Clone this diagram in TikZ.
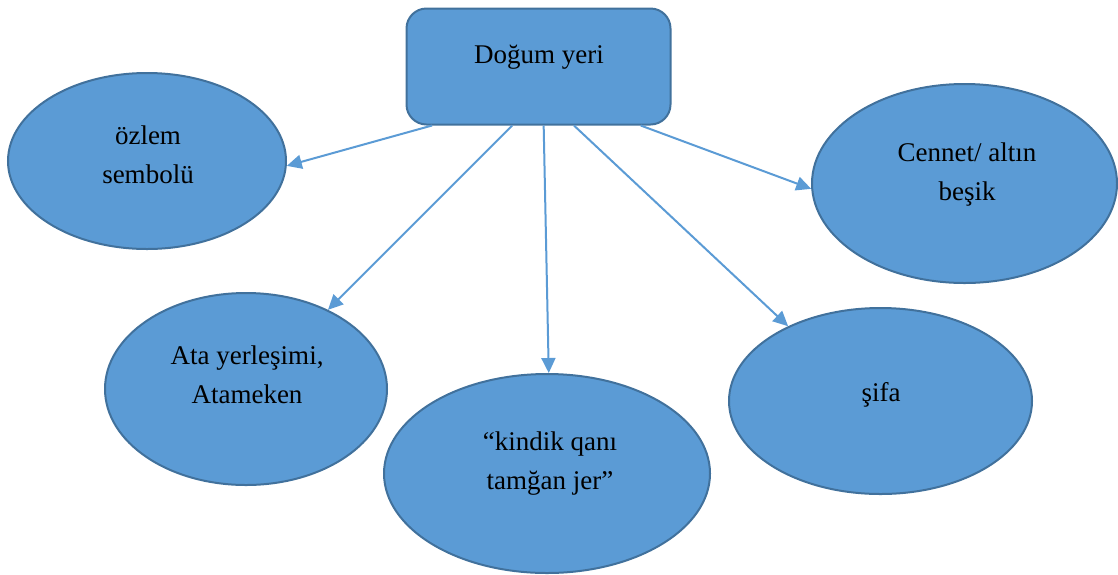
\documentclass[tikz,border=0pt]{standalone}
\usepackage{fontspec}
\setmainfont{Liberation Serif}
\usetikzlibrary{shapes.geometric,arrows.meta}
\definecolor{shapefill}{HTML}{5B9BD5}
\definecolor{shapeedge}{HTML}{41719C}
\begin{document}
\begin{tikzpicture}[x=1pt,y=-1pt,
  rootbox/.style={draw=shapeedge,fill=shapefill,line width=2pt,rounded corners=20pt,
    minimum width=264pt,minimum height=116pt,inner sep=0pt},
  bubble/.style={ellipse,draw=shapeedge,fill=shapefill,line width=2pt,inner sep=0pt},
  lbl/.style={anchor=base,align=center,font=\fontsize{27}{39}\selectfont,inner sep=0pt},
  link/.style={draw=shapefill,line width=2pt,-{Triangle[length=15pt,width=14pt]}}]
\useasboundingbox (0,0) rectangle (1118,574);

% central box
\node[rootbox] (root) at (538.5,66.5) {};
\node[lbl] (troot) at (539,63) {Doğum yeri};

% surrounding ellipses
\node[bubble,minimum width=278pt,minimum height=176pt] (e1) at (147,161) {};
\node[bubble,minimum width=305pt,minimum height=199pt] (e2) at (964.5,183.5) {};
\node[bubble,minimum width=282pt,minimum height=192pt] (e3) at (246,389) {};
\node[bubble,minimum width=326pt,minimum height=199pt] (e4) at (547,473.5) {};
\node[bubble,minimum width=303pt,minimum height=186pt] (e5) at (880.5,401) {};

% labels (base anchor sits on the last line of two-line labels)
\node[lbl] (t1) at (148,183) {özlem\\sembolü};
\node[lbl] (t2) at (967,200) {Cennet/ altın\\beşik};
\node[lbl] (t3) at (247,403) {Ata yerleşimi,\\Atameken};
\node[lbl] (t4) at (550,489) {“kindik qanı\\tamğan jer”};
\node[lbl] (t5) at (881,401) {şifa};

% connectors
\draw[link] (root.-151.4) -- (e1.-2);
\draw[link] (root.-114.6) -- (e3.44.3);
\draw[link] (root.-85.6) -- (e4.89.4);
\draw[link] (root.-59.3) -- (e5.141.7);
\draw[link] (root.-30.5) -- (e2.-178.3);
\end{tikzpicture}
\end{document}
